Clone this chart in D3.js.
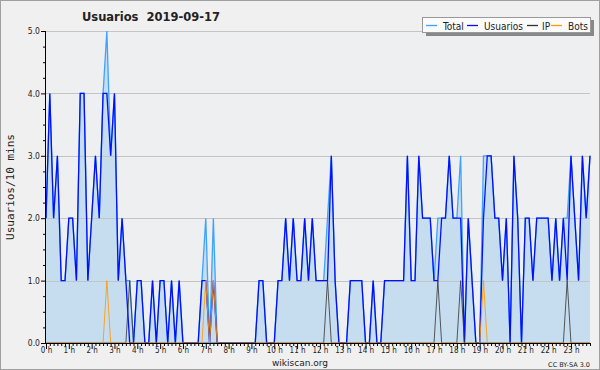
<!DOCTYPE html>
<html>
<head>
<meta charset="utf-8">
<script src="https://cdn.jsdelivr.net/npm/d3@7"></script>
<style>
  body { margin: 0; background: #f0f0f0; }
  svg { display: block; }
  text { font-family: "DejaVu Sans", sans-serif; fill: #222; }
</style>
</head>
<body>
<svg id="chart" width="600" height="370"></svg>
<script>
// usuarios per 10 minutes, 2019-09-17 (144 slots)
var usuarios = [
  2,4,2,3,1,1,2,2,1,4, 4,1,2,3,2,4,4,3,4,1,
  2,1,0,0,1,1,0,0,1,0, 1,1,0,1,0,1,0,0,0,0,
  0,1,1,0,1,0,0,0,0,0, 0,0,0,0,0,0,1,1,0,0,
  0,1,1,2,1,2,1,1,2,1, 2,1,1,1,1,3,1,0,0,0,
  1,1,1,1,0,0,1,0,0,1, 1,1,1,1,1,3,1,1,3,2,
  2,2,1,1,2,2,3,2,2,2, 0,2,1,0,0,2,3,3,2,2,
  1,2,0,3,2,0,2,2,1,2, 2,2,2,1,2,1,2,1,3,2,
  1,3,2,3
];
var total = [
  2,4,2,3,1,1,2,2,1,4, 4,1,2,3,2,4,5,3,4,1,
  2,1,1,0,1,1,0,0,1,0, 1,1,0,1,0,1,0,0,0,0,
  0,1,2,0,2,0,0,0,0,0, 0,0,0,0,0,0,1,1,0,0,
  0,1,1,2,1,2,1,1,2,1, 2,1,1,1,2,3,1,0,0,0,
  1,1,1,1,0,0,1,0,0,1, 1,1,1,1,1,3,1,1,3,2,
  2,2,1,2,2,2,3,2,2,3, 0,2,1,0,0,3,3,3,2,2,
  1,2,0,3,2,0,2,2,1,2, 2,2,2,1,2,1,2,2,3,2,
  1,3,2,3
];
var ip = [
  0,0,0,0,0,0,0,0,0,0, 0,0,0,0,0,0,0,0,0,0,
  0,0,1,0,0,0,0,0,0,0, 0,0,0,0,0,0,0,0,0,0,
  0,0,0,0,0,0,0,0,0,0, 0,0,0,0,0,0,0,0,0,0,
  0,0,0,0,0,0,0,0,0,0, 0,0,0,0,1,0,0,0,0,0,
  0,0,0,0,0,0,0,0,0,0, 0,0,0,0,0,0,0,0,0,0,
  0,0,0,1,0,0,0,0,0,1, 0,0,0,0,0,0,0,0,0,0,
  0,0,0,0,0,0,0,0,0,0, 0,0,0,0,0,0,0,1,0,0,
  0,0,0,0
];
var bots = [
  0,0,0,0,0,0,0,0,0,0, 0,0,0,0,0,0,1,0,0,0,
  0,0,0,0,0,0,0,0,0,0, 0,0,0,0,0,0,0,0,0,0,
  0,0,1,0,1,0,0,0,0,0, 0,0,0,0,0,0,0,0,0,0,
  0,0,0,0,0,0,0,0,0,0, 0,0,0,0,0,0,0,0,0,0,
  0,0,0,0,0,0,0,0,0,0, 0,0,0,0,0,0,0,0,0,0,
  0,0,0,0,0,0,0,0,0,0, 0,0,0,0,0,1,0,0,0,0,
  0,0,0,0,0,0,0,0,0,0, 0,0,0,0,0,0,0,0,0,0,
  0,0,0,0
];
var hours = d3.range(24).map(function (h) { return h + " h"; });
var yTicks = [0, 1, 2, 3, 4, 5];

var svg = d3.select("#chart");
var W = 600, H = 370;
var mLeft = 46, mRight = 590, mTop = 31, mBottom = 343;

var x = d3.scaleLinear().domain([0, usuarios.length - 1]).range([mLeft, mRight]);
var y = d3.scaleLinear().domain([0, 5]).range([mBottom, mTop]);

// frame
svg.append("rect").attr("x", 0.5).attr("y", 0.5).attr("width", W - 1).attr("height", H - 1)
  .attr("fill", "#f0f0f0").attr("stroke", "#a0a0a0");
svg.append("rect").attr("x", mLeft).attr("y", mTop).attr("width", mRight - mLeft).attr("height", mBottom - mTop)
  .attr("fill", "#eeeff1");

// area under total
var area = d3.area().x(function (d, i) { return x(i); }).y0(y(0)).y1(function (d) { return y(d); });
svg.append("path").datum(total).attr("d", area).attr("fill", "#c6ddf0");

// grid
svg.append("g").selectAll("line").data(yTicks.slice(1)).enter().append("line")
  .attr("x1", mLeft).attr("x2", mRight)
  .attr("y1", function (d) { return Math.round(y(d)) + 0.5; })
  .attr("y2", function (d) { return Math.round(y(d)) + 0.5; })
  .attr("stroke", "#c4c4c4").attr("stroke-width", 1);

function line(data) {
  return d3.line().x(function (d, i) { return x(i); }).y(function (d) { return y(d); })(data);
}
svg.append("path").attr("d", line(total)).attr("fill", "none").attr("stroke", "#3fa2ff").attr("stroke-width", 1.3);
svg.append("path").attr("d", line(usuarios)).attr("fill", "none").attr("stroke", "#0010ff").attr("stroke-width", 1.3);
svg.append("path").attr("d", line(ip)).attr("fill", "none").attr("stroke", "#333").attr("stroke-width", 1).attr("stroke-opacity", 0.8);
svg.append("path").attr("d", line(bots)).attr("fill", "none").attr("stroke", "#ff9900").attr("stroke-width", 1).attr("stroke-opacity", 0.85);

// y axis
var yAxis = d3.axisLeft(y).tickValues(d3.range(0, 5.01, 0.25)).tickSize(3)
  .tickFormat(function (d) { return d % 1 === 0 ? d.toFixed(1) : ""; });
var gy = svg.append("g").attr("transform", "translate(" + mLeft + ",0)").call(yAxis);
gy.select(".domain").remove();
gy.selectAll(".tick line").attr("stroke", "#000")
  .attr("x2", function (d) { return d % 1 === 0 ? -5 : -3; });
gy.selectAll(".tick text").attr("x", -6).style("font-size", "8.5px").style("font-family", "DejaVu Sans Condensed, DejaVu Sans");
svg.append("line").attr("x1", mLeft - 0.5).attr("x2", mLeft - 0.5).attr("y1", mTop).attr("y2", mBottom + 1).attr("stroke", "#000");

// x axis
var xAxis = d3.axisBottom(x).tickValues(d3.range(0, 144)).tickSize(3)
  .tickFormat(function (d) { return d % 6 === 0 ? hours[d / 6] : ""; });
var gx = svg.append("g").attr("transform", "translate(0," + mBottom + ")").call(xAxis);
gx.select(".domain").remove();
gx.selectAll(".tick line").attr("stroke", "#000")
  .attr("y2", function (d) { return d % 6 === 0 ? 6 : 3; });
gx.selectAll(".tick text").attr("y", 4).style("font-size", "8px").style("font-family", "DejaVu Sans Condensed, DejaVu Sans");
svg.append("line").attr("x1", mLeft - 1).attr("x2", mRight).attr("y1", mBottom + 0.5).attr("y2", mBottom + 0.5).attr("stroke", "#000");

// titles
svg.append("text").attr("x", 151).attr("y", 21).attr("text-anchor", "middle")
  .attr("xml:space", "preserve")
  .style("font-size", "11.5px").style("font-weight", "bold").text("Usuarios  2019-09-17");
svg.append("text").attr("transform", "translate(14,187) rotate(-90)").attr("text-anchor", "middle")
  .style("font-family", "DejaVu Sans Mono").style("font-size", "11px").text("Usuarios/10 mins");
svg.append("text").attr("x", 300).attr("y", 366).attr("text-anchor", "middle")
  .style("font-size", "9px").text("wikiscan.org");
svg.append("text").attr("x", 590).attr("y", 367).attr("text-anchor", "end")
  .style("font-size", "6.5px").text("CC BY-SA 3.0");

// legend
var legend = [
  { name: "Total", color: "#3fa2ff", x: 426, tx: 443 },
  { name: "Usuarios", color: "#0010ff", x: 467, tx: 484 },
  { name: "IP", color: "#333", x: 527, tx: 542 },
  { name: "Bots", color: "#ff9900", x: 551, tx: 568 }
];
svg.append("rect").attr("x", 426).attr("y", 20).attr("width", 168).attr("height", 16).attr("fill", "#888");
svg.append("rect").attr("x", 422.5).attr("y", 17.5).attr("width", 168).attr("height", 15)
  .attr("fill", "#fbfbfb").attr("stroke", "#999");
var lg = svg.append("g").selectAll("g").data(legend).enter().append("g");
lg.append("line").attr("x1", function (d) { return d.x; }).attr("x2", function (d) { return d.x + 11; })
  .attr("y1", 25.5).attr("y2", 25.5).attr("stroke", function (d) { return d.color; }).attr("stroke-width", 1.3);
lg.append("text").attr("x", function (d) { return d.tx; }).attr("y", 29.5)
  .style("font-size", "10px").style("font-family", "DejaVu Sans Condensed, DejaVu Sans")
  .text(function (d) { return d.name; });
</script>
</body>
</html>
